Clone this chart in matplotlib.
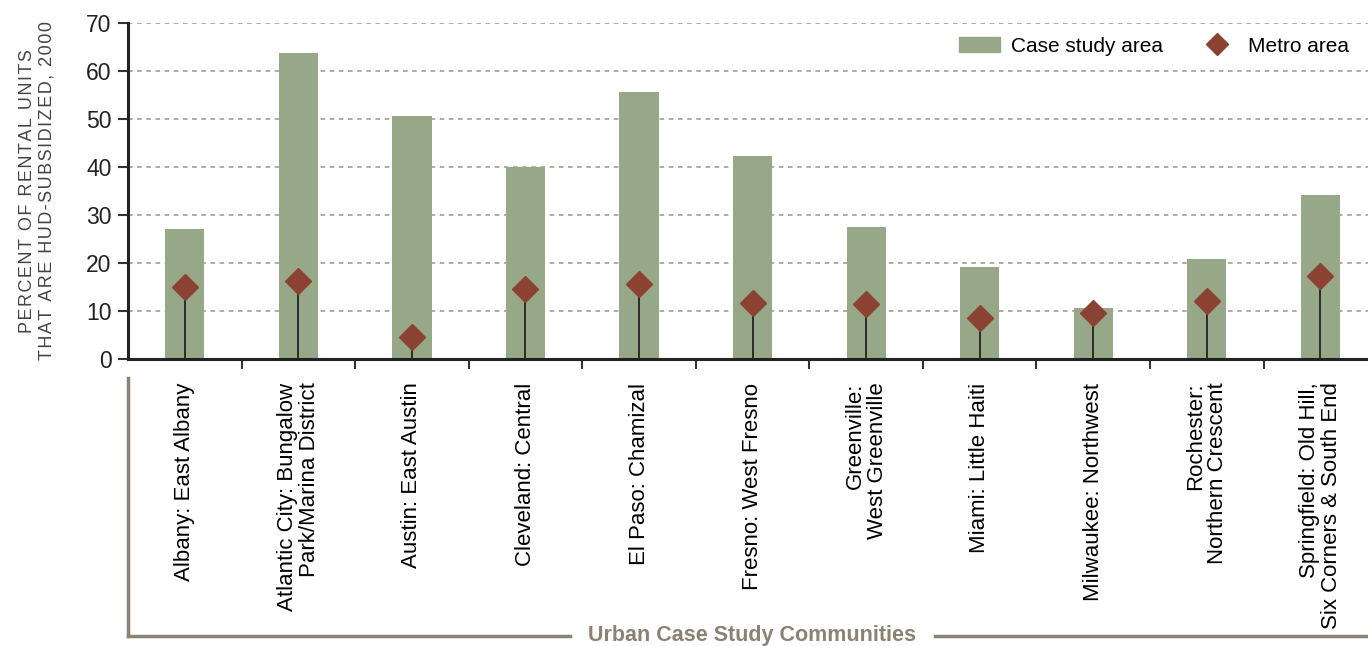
import matplotlib.pyplot as plt
from matplotlib.lines import Line2D
from matplotlib.patches import Patch
import numpy as np

communities = [
    "Albany: East Albany",
    "Atlantic City: Bungalow\nPark/Marina District",
    "Austin: East Austin",
    "Cleveland: Central",
    "El Paso: Chamizal",
    "Fresno: West Fresno",
    "Greenville:\nWest Greenville",
    "Miami: Little Haiti",
    "Milwaukee: Northwest",
    "Rochester:\nNorthern Crescent",
    "Springfield: Old Hill,\nSix Corners & South End",
]
case_study = [27.0, 63.7, 50.6, 40.0, 55.6, 42.3, 27.5, 19.2, 10.6, 20.8, 34.2]
metro = [15.0, 16.3, 4.6, 14.6, 15.6, 11.7, 11.5, 8.5, 9.6, 12.1, 17.3]
yticks = [0, 10, 20, 30, 40, 50, 60, 70]

GREEN = "#96a888"
RED = "#8b4232"
BRACKET = "#8a8272"

plt.rcParams['font.family'] = ['Liberation Sans', 'DejaVu Sans']

fig = plt.figure(figsize=(13.68, 6.46), dpi=100)
ax = fig.add_axes([0.0936, 0.4443, 0.9064, 0.5201])

x = np.arange(len(communities))
ax.bar(x, case_study, width=0.345, color=GREEN, zorder=2, label="Case study area")
ax.vlines(x, 0, metro, color="#222222", lw=1.3, zorder=3)
ax.plot(x, metro, ls="none", marker="D", ms=13, color=RED, zorder=4, label="Metro area")

ax.set_ylim(0, 70)
ax.set_xlim(-0.5, 10.42)
ax.set_yticks(yticks)
ax.tick_params(axis="y", labelsize=16.5, length=7, width=1.5, color="#333333",
               labelcolor="#222222", pad=5)
ax.yaxis.grid(True, ls=(0, (3, 3)), color="#9a968e", lw=1.1, zorder=0)
ax.set_axisbelow(True)

ax.set_xticks(x)
ax.set_xticklabels(communities, rotation=90, ha="center", va="top",
                   multialignment="right", fontsize=16, linespacing=1.05)
ax.tick_params(axis="x", length=0, pad=17)
ax.set_xticks(np.arange(0.5, 10.5, 1), minor=True)
ax.tick_params(axis="x", which="minor", length=7, width=1.5, color="#333333")

for s in ["top", "right"]:
    ax.spines[s].set_visible(False)
for s in ["left", "bottom"]:
    ax.spines[s].set_linewidth(2.2)
    ax.spines[s].set_color("#222222")

ylab = ["PERCENT OF RENTAL UNITS", "THAT ARE HUD-SUBSIDIZED, 2000"]
ylab = "\n".join("\u200a".join(line) for line in ylab)
ax.set_ylabel(ylab, fontsize=13, color="#444444", labelpad=22, linespacing=1.2)

handles = [Patch(color=GREEN, label="Case study area"),
           Line2D([], [], ls="none", marker="D", ms=11, color=RED, label="Metro area")]
ax.legend(handles=handles, loc="upper right", ncol=2, frameon=False, fontsize=15,
          bbox_to_anchor=(1.0, 1.015), handlelength=2.0, handletextpad=0.5,
          columnspacing=1.6)

# bracket under the category labels
fy = 1 - 636 / 646
fig.add_artist(Line2D([128 / 1368, 128 / 1368], [1 - 378 / 646, fy], color=BRACKET, lw=2.5))
fig.add_artist(Line2D([128 / 1368, 570 / 1368], [fy, fy], color=BRACKET, lw=2.5))
fig.add_artist(Line2D([935 / 1368, 1.0], [fy, fy], color=BRACKET, lw=2.5))
fig.text(752 / 1368, fy, "Urban Case Study Communities", ha="center", va="center",
         fontsize=15.5, fontweight="bold", color=BRACKET)

fig.savefig("out.png", dpi=100)
